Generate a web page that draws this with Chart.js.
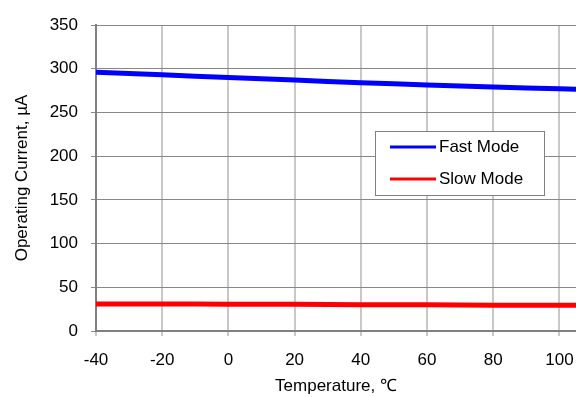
<!DOCTYPE html>
<html>
<head>
<meta charset="utf-8">
<script src="https://cdn.jsdelivr.net/npm/chart.js@4"></script>
<style>
  html, body { margin: 0; padding: 0; background: #fff; overflow: hidden; }
</style>
</head>
<body>
<canvas id="myChart" width="576" height="397"></canvas>
<script>
const temps = [-40, -20, 0, 20, 40, 60, 80, 100, 105];
const fastMode = [296, 293, 290, 287, 284, 281.5, 279, 277, 276.5];
const slowMode = [31, 31, 30.5, 30.5, 30, 30, 29.5, 29.5, 29.5];
const seriesNames = ['Fast Mode', 'Slow Mode'];

const fontFamily = '"Liberation Sans", Arial, sans-serif';

function toPoints(values) {
  return temps.map(function (t, i) { return { x: t, y: values[i] }; });
}

// legend drawn inside the plot, boxed, like the original
const boxLegend = {
  id: 'boxLegend',
  afterDraw(chart) {
    const ctx = chart.ctx;
    const left = 375, top = 131, w = 169, h = 64;
    ctx.save();
    ctx.fillStyle = '#fff';
    ctx.fillRect(left, top, w, h);
    ctx.strokeStyle = '#808080';
    ctx.lineWidth = 1;
    ctx.strokeRect(left + 0.5, top + 0.5, w, h);
    ctx.font = '17px ' + fontFamily;
    ctx.textBaseline = 'middle';
    ctx.fillStyle = '#000';
    chart.data.datasets.forEach(function (ds, i) {
      const y = top + 16 + i * 32;
      ctx.strokeStyle = ds.borderColor;
      ctx.lineWidth = 3;
      ctx.beginPath();
      ctx.moveTo(390, y);
      ctx.lineTo(436, y);
      ctx.stroke();
      ctx.fillText(ds.label, 439, y);
    });
    ctx.restore();
  }
};

const data = {
  datasets: [{
    label: seriesNames[0],
    data: toPoints(fastMode),
    borderColor: '#0000ff',
    backgroundColor: '#0000ff',
    borderWidth: 5,
    pointRadius: 0,
    tension: 0.2
  },
  {
    label: seriesNames[1],
    data: toPoints(slowMode),
    borderColor: '#ff0000',
    backgroundColor: '#ff0000',
    borderWidth: 5,
    pointRadius: 0,
    tension: 0.2
  }]
};

const config = {
  type: 'line',
  data: data,
  plugins: [boxLegend],
  options: {
    responsive: false,
    animation: false,
    layout: { padding: { top: 25, right: 0, left: 0, bottom: 0 } },
    plugins: {
      legend: { display: false },
      tooltip: { enabled: false }
    },
    scales: {
      x: {
        type: 'linear',
        min: -40,
        max: 105,
        ticks: {
          stepSize: 20,
          includeBounds: false,
          padding: 14,
          color: '#000',
          font: { family: fontFamily, size: 17 }
        },
        grid: { color: '#c8c8c8', lineWidth: 2, tickLength: 5 },
        border: { color: '#808080', width: 2 },
        title: {
          display: true,
          text: 'Temperature, ℃',
          color: '#000',
          padding: { top: 0, bottom: 0 },
          font: { family: fontFamily, size: 17 }
        },
        afterFit: function (scale) {
          scale.height = 66;
          scale.paddingLeft = 0;
          scale.paddingRight = 0;
        }
      },
      y: {
        min: 0,
        max: 350,
        ticks: {
          stepSize: 50,
          padding: 13,
          color: '#000',
          font: { family: fontFamily, size: 17 }
        },
        grid: { color: '#888888', lineWidth: 1, tickLength: 5 },
        border: { color: '#808080', width: 2 },
        title: {
          display: true,
          text: 'Operating Current, µA',
          color: '#000',
          padding: { top: 12, bottom: 0 },
          font: { family: fontFamily, size: 17 }
        },
        afterFit: function (scale) { scale.width = 96; }
      }
    }
  }
};

const myChart = new Chart(document.getElementById('myChart'), config);
</script>
</body>
</html>
